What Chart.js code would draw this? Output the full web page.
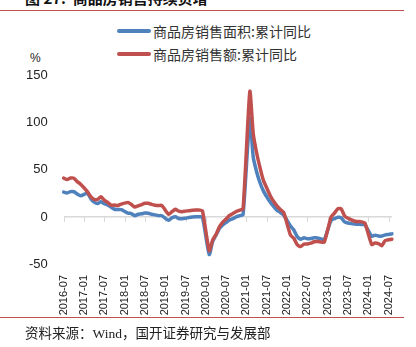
<!DOCTYPE html>
<html lang="zh">
<head>
<meta charset="UTF-8">
<title>商品房销售</title>
<script src="https://cdn.jsdelivr.net/npm/chart.js@4/dist/chart.umd.min.js"></script>
<style>
  body { margin: 0; width: 416px; height: 347px; background: #fff; position: relative; overflow: hidden;
         font-family: "Noto Sans CJK SC", "Liberation Sans", sans-serif; }
  #title { position: absolute; left: 25px; top: -13px; font-size: 15px; font-weight: bold; color: #111; white-space: pre; }
  .rule { position: absolute; left: 0; width: 404px; height: 1px; background: #c0504d; }
  #legend { position: absolute; left: 117px; top: 19px; font-size: 14px; color: #333; }
  .item { display: flex; align-items: center; height: 23px; }
  .swatch { width: 34px; height: 4px; border-radius: 2px; margin-right: 2px; }
  #unit { position: absolute; left: 30px; top: 51px; font-size: 12px; color: #222; font-family: "Liberation Sans", sans-serif; }
  #source { position: absolute; left: 25px; top: 322px; font-size: 13.5px; color: #222;
            font-family: "Liberation Serif", "Noto Sans CJK SC", serif; }
  canvas { position: absolute; left: 0; top: 52px; }
</style>
</head>
<body>
<div id="title">图 27:  商品房销售持续负增</div>
<div class="rule" style="top:10px"></div>
<div id="legend">
  <div class="item"><div class="swatch" style="background:#4f81bd"></div>商品房销售面积:累计同比</div>
  <div class="item"><div class="swatch" style="background:#c0504d"></div>商品房销售额:累计同比</div>
</div>
<div id="unit">%</div>
<canvas id="chart" width="416" height="266"></canvas>
<div class="rule" style="top:317px"></div>
<div id="source">资料来源：Wind，国开证券研究与发展部</div>

<script>
// monthly, 2016-07 .. 2024-08 (January has no cumulative figure)
const months = [];
for (let y = 2016; y <= 2024; y++) {
  for (let m = 1; m <= 12; m++) {
    if (y === 2016 && m < 7) continue;
    if (y === 2024 && m > 8) continue;
    months.push(y + '-' + String(m).padStart(2, '0'));
  }
}

const areaYoY = [
  26.4, 25.5, 26.9, 26.8, 24.3, 22.5,
  null, 25.1, 19.5, 15.7, 14.3, 16.1, 14.0, 12.7, 10.3, 8.2, 7.9, 7.7,
  null, 4.1, 3.6, 1.3, 2.9, 3.3, 4.2, 4.0, 2.9, 2.2, 1.4, 1.3,
  null, -3.6, -0.9, 0.3, -1.6, -1.8, -1.3, -0.6, -0.1, 0.1, 0.2, -0.1,
  null, -39.9, -26.3, -19.3, -12.3, -8.4, -5.8, -3.3, -1.8, 0.0, 1.3, 2.6,
  null, 104.9, 63.8, 48.1, 36.3, 27.7, 21.5, 15.9, 11.3, 7.3, 4.8, 1.9,
  null, -9.6, -13.8, -20.9, -23.6, -22.2, -23.1, -23.0, -22.2, -22.3, -23.3, -24.3,
  null, -3.6, -1.8, -0.4, -0.9, -5.3, -6.5, -7.1, -7.5, -7.8, -8.0, -8.5,
  null, -20.5, -19.4, -20.2, -20.3, -19.0, -18.6, -18.0
];

const amountYoY = [
  41.3, 39.8, 41.3, 41.2, 37.5, 34.8,
  null, 26.9, 21.5, 18.6, 18.6, 21.5, 17.8, 15.5, 12.6, 12.6, 12.2, 13.7,
  null, 15.3, 13.2, 10.6, 11.8, 13.2, 14.5, 14.5, 13.3, 12.5, 12.1, 12.2,
  null, 2.8, 5.6, 8.1, 6.1, 5.6, 6.2, 6.7, 7.1, 7.3, 7.3, 6.5,
  null, -35.9, -24.7, -18.6, -10.6, -5.4, -2.1, 1.6, 3.7, 5.8, 7.2, 8.7,
  null, 133.4, 88.5, 68.2, 52.4, 38.9, 30.7, 22.8, 16.6, 11.8, 8.0, 4.8,
  null, -19.3, -22.7, -29.5, -31.5, -28.9, -28.8, -27.9, -26.3, -26.1, -26.6, -26.7,
  null, -0.1, 4.1, 8.8, 8.4, 1.1, -1.5, -3.2, -4.6, -4.9, -5.2, -6.5,
  null, -29.3, -27.6, -28.3, -30.5, -25.0, -24.3, -23.6
];

const yTicks = [-50, 0, 50, 100, 150];
const tickEvery = 6;

// small tick marks hanging under the zero line
const zeroTicks = {
  id: 'zeroTicks',
  beforeDatasetsDraw(chart) {
    const x = chart.scales.x, y = chart.scales.y;
    const y0 = y.getPixelForValue(0);
    const ctx = chart.ctx;
    ctx.save();
    ctx.strokeStyle = '#d9d9d9';
    ctx.lineWidth = 1;
    ctx.beginPath();
    for (let i = 0; i < months.length; i += tickEvery) {
      const px = Math.round(x.getPixelForValue(i)) + 0.5;
      ctx.moveTo(px, y0);
      ctx.lineTo(px, y0 + 5);
    }
    ctx.stroke();
    ctx.restore();
  }
};

new Chart(document.getElementById('chart'), {
  type: 'line',
  data: {
    labels: months,
    datasets: [
      { label: '商品房销售面积:累计同比', data: areaYoY, borderColor: '#4f81bd', order: 1 },
      { label: '商品房销售额:累计同比', data: amountYoY, borderColor: '#c0504d', order: 0 }
    ]
  },
  options: {
    responsive: false,
    animation: false,
    spanGaps: true,
    layout: { padding: { top: 17, left: 10, right: 24, bottom: 0 } },
    elements: {
      line: { borderWidth: 3.5, tension: 0.2, borderCapStyle: 'round', borderJoinStyle: 'round' },
      point: { radius: 0 }
    },
    plugins: { legend: { display: false }, tooltip: { enabled: false } },
    scales: {
      x: {
        type: 'category',
        offset: false,
        grid: { display: false, drawTicks: false },
        border: { display: false },
        afterFit: s => { s.height = 54; },
        ticks: {
          autoSkip: false, maxRotation: 90, minRotation: 90, padding: 11,
          color: '#222', font: { family: 'Liberation Sans', size: 11 },
          callback: (v, i) => (i % tickEvery === 0 ? months[i] : null)
        }
      },
      y: {
        min: yTicks[0], max: yTicks[yTicks.length - 1],
        afterBuildTicks: s => { s.ticks = yTicks.map(v => ({ value: v })); },
        border: { display: false },
        grid: {
          drawTicks: false,
          lineWidth: 1.5,
          color: c => (c.tick && c.tick.value === 0 ? '#d9d9d9' : 'rgba(0,0,0,0)')
        },
        ticks: { padding: 16, color: '#222', font: { family: 'Liberation Sans', size: 13 } }
      }
    }
  },
  plugins: [zeroTicks]
});
</script>
</body>
</html>
